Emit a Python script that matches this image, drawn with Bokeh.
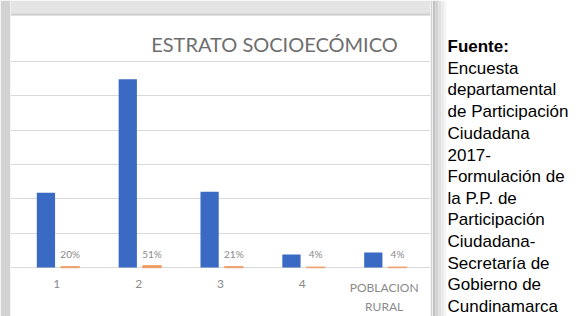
from bokeh.plotting import figure
from bokeh.models import FactorRange, Range1d, FixedTicker, BoxAnnotation, ColumnDataSource
from bokeh.transform import dodge
from bokeh.layouts import row
from bokeh.core.properties import value
from bokeh.embed import file_html
from bokeh.resources import INLINE

# ---- data ----
categories = ["1", "2", "3", "4", "POBLACION RURAL"]
tick_labels = ["1", "2", "3", "4", "POBLACION\nRURAL"]
counts = [21.8, 54.8, 22.1, 3.8, 4.4]
shares = [0.20, 0.51, 0.21, 0.04, 0.04]
share_labels = [f"{round(s * 100)}%" for s in shares]
grid_values = [0, 10, 20, 30, 40, 50, 60]
title_text = "ESTRATO SOCIOECÓMICO"
source_title = "Fuente:"
source_lines = ["Encuesta", "departamental", "de Participación", "Ciudadana", "2017-",
                "Formulación de", "la P.P. de", "Participación", "Ciudadana-",
                "Secretaría de", "Gobierno de", "Cundinamarca"]

BLUE = "#3A6AC4"
ORANGE = "#EE9A62"
GREY_TXT = "#8a8a8a"

src = ColumnDataSource(dict(cat=categories, lab=tick_labels, cnt=counts,
                            pct=shares, plab=share_labels, zero=[0] * 5))

p = figure(width=432, height=316,
           x_range=FactorRange(*categories, range_padding=0.066, range_padding_units="absolute"),
           y_range=Range1d(-14.27, 77.77),
           x_axis_location=None, y_axis_location=None,
           toolbar_location=None, output_backend="svg")
p.min_border_left = 10
p.min_border_right = 2
p.min_border_top = 0
p.min_border_bottom = 0
p.border_fill_color = "#d2d2d2"
p.background_fill_color = "white"
p.outline_line_color = None
p.xgrid.visible = False
p.ygrid.ticker = FixedTicker(ticks=grid_values)
p.ygrid.grid_line_color = "#d9d9d9"
p.ygrid.grid_line_width = 1

# top shadow strip
p.add_layout(BoxAnnotation(bottom=73.4, fill_color="#e4e4e4", fill_alpha=1.0, line_color=None))
p.add_layout(BoxAnnotation(bottom=73.4, top=74.0, fill_color="#d0d0d0", fill_alpha=1.0, line_color=None))

p.vbar(x=dodge("cat", -0.133, range=p.x_range), top="cnt", width=0.223,
       source=src, fill_color=BLUE, line_color=None)
p.vbar(x=dodge("cat", 0.163, range=p.x_range), top="pct", width=0.223,
       source=src, fill_color=ORANGE, line_color=ORANGE, line_width=1.5, line_alpha=0.8)

p.text(x=dodge("cat", 0.163, range=p.x_range), y="zero", text="plab", source=src,
       text_align="center", text_baseline="alphabetic", y_offset=-14,
       text_font=value("Lato"), text_font_size="10px", text_color=GREY_TXT)

p.text(x="cat", y="zero", text="lab", source=src, text_align="center",
       text_baseline="top", y_offset=12, text_line_height=1.3,
       text_font=value("Lato"), text_font_size="12px", text_color=GREY_TXT)

p.text(x=["3"], y=[65.2], text=[title_text], x_offset=54, text_align="center",
       text_baseline="middle", text_font=value("Lato"), text_font_size="20px",
       text_color="#6e6e6e")

# ---- source text panel ----
t = figure(width=148, height=316, x_range=Range1d(0, 148), y_range=Range1d(316, 0),
           x_axis_location=None, y_axis_location=None,
           toolbar_location=None, output_backend="svg")
t.min_border = 0
t.outline_line_color = None
t.grid.visible = False
t.background_fill_color = "white"
t.border_fill_color = "white"
for x0, x1, c in [(0, 3, "#c2c2c2"), (3, 6, "#d2d2d2"), (6, 9, "#e0e0e0"),
                  (9, 12, "#ececec"), (12, 14, "#f6f6f6")]:
    t.add_layout(BoxAnnotation(left=x0, right=x1, fill_color=c, fill_alpha=1.0, line_color=None))

base = 46
step = 21.65
t.text(x=[15], y=[base], text=[source_title], text_font=value("Liberation Sans"),
       text_font_size="17px", text_font_style="bold", text_color="black",
       text_baseline="alphabetic")
t.text(x=[15] * len(source_lines), y=[base + step * (i + 1) for i in range(len(source_lines))],
       text=source_lines, text_font=value("Liberation Sans"), text_font_size="17px",
       text_color="black", text_baseline="alphabetic")

layout = row(p, t)
open("out.html", "w").write(file_html(layout, INLINE))
